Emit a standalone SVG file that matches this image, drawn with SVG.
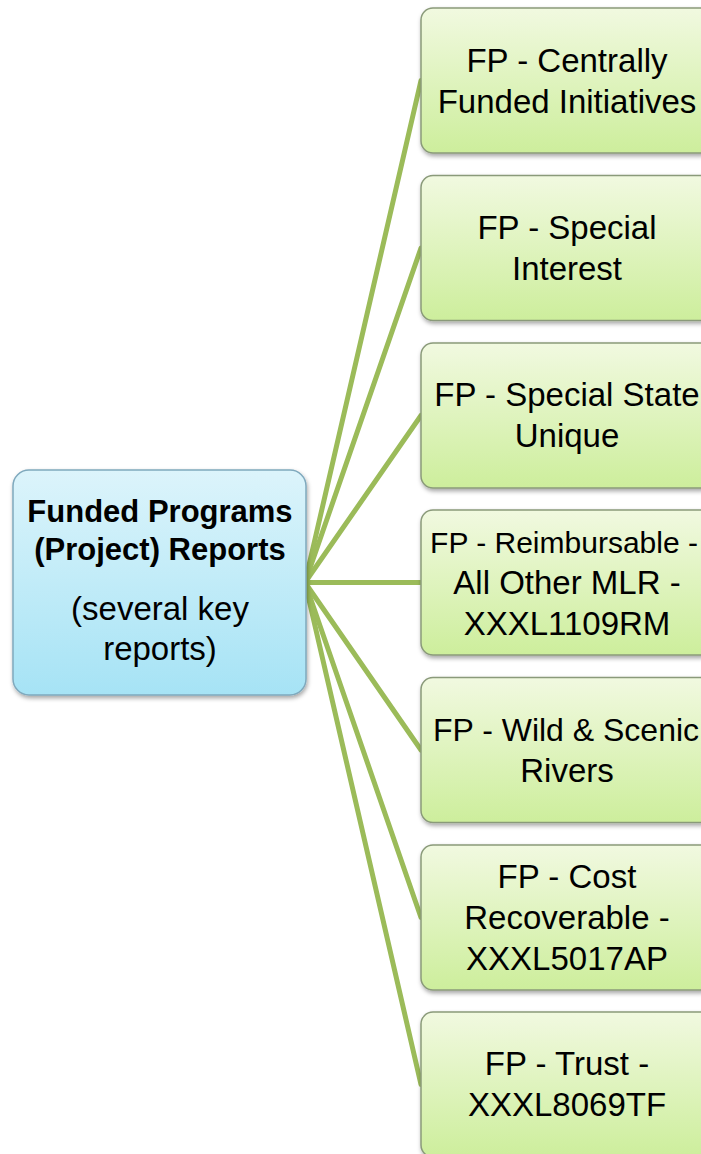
<svg xmlns="http://www.w3.org/2000/svg" width="701" height="1154" viewBox="0 0 701 1154">
<defs>
<linearGradient id="gBlue" x1="0" y1="0" x2="0" y2="1">
<stop offset="0" stop-color="#dcf4fb"/>
<stop offset="1" stop-color="#a6e3f5"/>
</linearGradient>
<linearGradient id="gGreen" x1="0" y1="0" x2="0" y2="1">
<stop offset="0" stop-color="#f1f9e0"/>
<stop offset="1" stop-color="#cdee9c"/>
</linearGradient>
<filter id="sh" x="-10%" y="-10%" width="120%" height="125%">
<feDropShadow dx="1" dy="2.5" stdDeviation="2" flood-color="#000" flood-opacity="0.35"/>
</filter>
<style>
.leaf rect{fill:url(#gGreen);stroke:#8a9a7a;stroke-width:1.5;filter:url(#sh)}
.hub rect{fill:url(#gBlue);stroke:#7fa9bd;stroke-width:1.5;filter:url(#sh)}
text{font-family:"Liberation Sans",Arial,sans-serif;font-size:33px;fill:#000;text-anchor:middle}
.b{font-weight:bold;font-size:31px}
.s{font-size:30px}
.m{font-size:32px}
#connectors line{stroke:#9bbb59;stroke-width:5;stroke-linecap:round}
</style>
</defs>
<rect width="701" height="1154" fill="#fff"/>
<g id="connectors">
<line x1="305" y1="582.5" x2="421" y2="80.5"/>
<line x1="305" y1="582.5" x2="421" y2="248"/>
<line x1="305" y1="582.5" x2="421" y2="415.5"/>
<line x1="305" y1="582.5" x2="421" y2="582.5"/>
<line x1="305" y1="582.5" x2="421" y2="750"/>
<line x1="305" y1="582.5" x2="421" y2="917.5"/>
<line x1="305" y1="582.5" x2="421" y2="1084.5"/>
</g>
<g id="hub" class="hub">
<rect x="13" y="470" width="293" height="225" rx="16"/>
<text class="b" x="160" y="522">Funded Programs</text>
<text class="b" x="160" y="560">(Project) Reports</text>
<text x="160" y="620">(several key</text>
<text x="160" y="660">reports)</text>
</g>
<g id="n1" class="leaf">
<rect x="421" y="8" width="292" height="145" rx="12"/>
<text x="567" y="72">FP - Centrally</text>
<text x="567" y="113">Funded Initiatives</text>
</g>
<g id="n2" class="leaf">
<rect x="421" y="175.5" width="292" height="145" rx="12"/>
<text x="567" y="238.5">FP - Special</text>
<text x="567" y="279.5">Interest</text>
</g>
<g id="n3" class="leaf">
<rect x="421" y="343" width="292" height="145" rx="12"/>
<text x="567" y="406">FP - Special State</text>
<text x="567" y="447">Unique</text>
</g>
<g id="n4" class="leaf">
<rect x="421" y="510" width="292" height="145" rx="12"/>
<text class="s" x="564" y="553">FP - Reimbursable -</text>
<text x="567" y="594">All Other MLR -</text>
<text x="567" y="635">XXXL1109RM</text>
</g>
<g id="n5" class="leaf">
<rect x="421" y="677.5" width="292" height="145" rx="12"/>
<text class="m" x="566" y="740.5">FP - Wild &amp; Scenic</text>
<text x="567" y="781.5">Rivers</text>
</g>
<g id="n6" class="leaf">
<rect x="421" y="845" width="292" height="145" rx="12"/>
<text x="567" y="888">FP - Cost</text>
<text x="567" y="929">Recoverable -</text>
<text x="567" y="970">XXXL5017AP</text>
</g>
<g id="n7" class="leaf">
<rect x="421" y="1012" width="292" height="145" rx="12"/>
<text x="567" y="1075">FP - Trust -</text>
<text x="567" y="1116">XXXL8069TF</text>
</g>
</svg>
